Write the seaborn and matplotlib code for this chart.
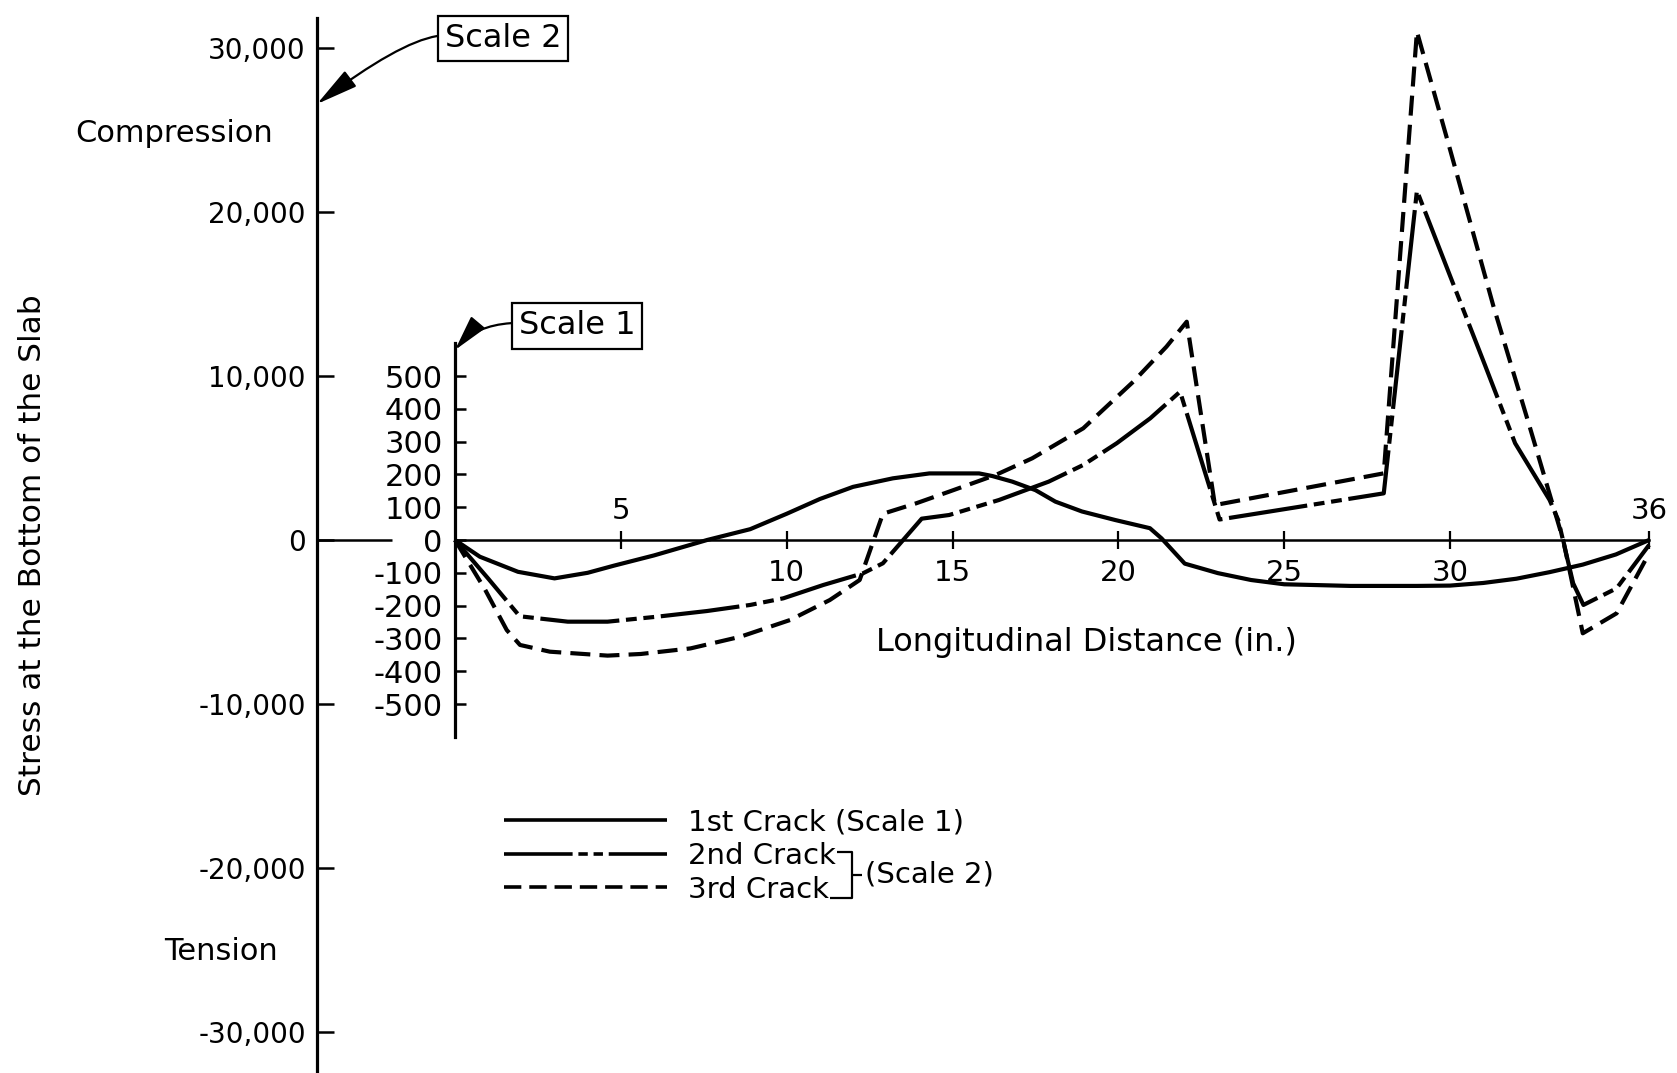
import matplotlib
matplotlib.use("Agg")
import matplotlib.pyplot as plt
import seaborn as sns
from matplotlib.lines import Line2D

# ---------------- data ----------------
# 1st crack, Scale 1 (psi)
dist_1st = [0, 0.75, 1.9, 3.0, 4.0, 4.8, 6.0, 7.6, 8.9, 10.0, 11.0, 12.0, 13.2, 14.3,
            15.8, 16.2, 16.8, 17.5, 18.1, 18.9, 19.9, 20.95, 21.3, 22.0, 23.0, 24.0,
            25.0, 27.0, 29.0, 30.0, 31.0, 32.0, 33.0, 34.0, 35.0, 36.0]
stress_1st = [0, -51, -97, -117, -100, -78, -47, 0, 33, 80, 125, 162, 188, 203,
              203, 195, 178, 152, 117, 87, 61, 36, 5, -72, -101, -122,
              -135, -140, -140, -139, -131, -118, -98, -75, -44, 0]

# 2nd crack, Scale 2 (psi)
dist_2nd = [0, 1.0, 1.95, 3.4, 4.6, 6.1, 7.6, 8.9, 9.9, 11.1, 12.3, 12.9, 14.07, 14.9,
            16.4, 17.9, 18.94, 19.95, 20.96, 21.86, 23.05, 28.0, 29.0, 30.0, 31.05,
            31.96, 33.0, 33.26, 33.71, 34.02, 35.02, 36.0]
stress_2nd = [0, -2350, -4650, -4980, -4980, -4675, -4330, -3960, -3555, -2745, -2030,
              -1420, 1300, 1525, 2440, 3560, 4575, 5900, 7420, 9045, 1250, 2845, 21300,
              16100, 10670, 5900, 2440, 1220, -2640, -3960, -2945, -300]

# 3rd crack, Scale 2 (psi)
dist_3rd = [0, 0.9, 1.56, 1.96, 2.86, 4.6, 5.6, 7.1, 8.6, 10.1, 11.3, 12.2, 12.9, 13.9,
            14.9, 16.3, 17.4, 18.94, 20.45, 21.45, 22.06, 22.91, 28.0, 29.0, 30.0,
            31.3, 32.4, 33.41, 34.0, 35.02, 36.0]
stress_3rd = [0, -3000, -5490, -6400, -6810, -7050, -6950, -6610, -5900, -4880, -3660,
              -2440, 1600, 2235, 2950, 3965, 4980, 6810, 9655, 11790, 13310, 2130, 4065,
              31000, 23800, 14300, 6900, 0, -5690, -4470, -810]

scale2_ticks = [-30000, -20000, -10000, 0, 10000, 20000, 30000]
scale2_labels = ["-30,000", "-20,000", "-10,000", "0", "10,000", "20,000", "30,000"]
scale1_ticks = [-500, -400, -300, -200, -100, 0, 100, 200, 300, 400, 500]
scale1_labels = ["-500", "-400", "-300", "-200", "-100", "0", "100", "200", "300", "400", "500"]
x_ticks_below = [10, 15, 20, 25, 30]
x_ticks_above = [5, 36]
legend_labels = ["1st Crack (Scale 1)", "2nd Crack", "3rd Crack"]
SCALE_RATIO = 20  # Scale 2 units per Scale 1 unit

# ---------------- style ----------------
sns.set_theme(style="white", rc={
    "axes.edgecolor": "black", "text.color": "black", "axes.labelcolor": "black",
    "xtick.color": "black", "ytick.color": "black",
    "lines.solid_capstyle": "butt", "lines.dash_capstyle": "butt",
})
plt.rcParams["font.family"] = ["DejaVu Sans"]

W, H = 1677, 1073
fig = plt.figure(figsize=(W / 100, H / 100), dpi=100)

# layout (pixels in the output image)
AX_LEFT_PX = 317      # Scale 2 axis
X0_PX = 455           # 0 in. / Scale 1 axis
PX_PER_IN = 33.17
Y0_PX = 540           # zero stress line
PX_PER_PSI2 = 164 / 10000
AX_TOP_PX = 18

xmin = (AX_LEFT_PX - X0_PX) / PX_PER_IN
xmax = (W - X0_PX) / PX_PER_IN
ymax = (Y0_PX - AX_TOP_PX) / PX_PER_PSI2
ymin = (Y0_PX - H) / PX_PER_PSI2

ax = fig.add_axes([AX_LEFT_PX / W, 0, (W - AX_LEFT_PX) / W, (H - AX_TOP_PX) / H])
ax2 = ax.twinx()
ax3 = ax.twiny()

# ---------------- curves ----------------
sns.lineplot(x=dist_2nd, y=stress_2nd, ax=ax, color="black", linewidth=3.0)
line2 = ax.lines[-1]
line2.set_linestyle((0, (19, 1.6, 2.6, 1.6, 2.6, 1.6)))
sns.lineplot(x=dist_3rd, y=stress_3rd, ax=ax, color="black", linewidth=3.0)
line3 = ax.lines[-1]
line3.set_linestyle((0, (4.8, 2.2)))
sns.lineplot(x=dist_1st, y=stress_1st, ax=ax2, color="black", linewidth=3.0)
line1 = ax2.lines[-1]

for a in (ax, ax3):
    a.set_xlim(xmin, xmax)
ax.set_ylim(ymin, ymax)
ax2.set_ylim(ymin / SCALE_RATIO, ymax / SCALE_RATIO)

# ---------------- Scale 2 axis (main left spine) ----------------
for s in ("top", "right"):
    ax.spines[s].set_visible(False)
ax.spines["left"].set_linewidth(2.3)
ax.spines["bottom"].set_position(("data", 0))
ax.spines["bottom"].set_bounds(0, 36)
ax.spines["bottom"].set_linewidth(1.8)
ax.set_yticks(scale2_ticks, scale2_labels)
ax.tick_params(axis="y", left=True, right=False, direction="in", length=12, width=1.8,
               pad=8, labelsize=20)
ax.set_xticks(x_ticks_below + x_ticks_above,
              [str(v) for v in x_ticks_below] + [""] * len(x_ticks_above))
ax.tick_params(axis="x", bottom=True, top=False, direction="inout", length=13, width=1.6,
               pad=7, labelsize=21)
# short piece of the zero line next to the Scale 2 axis
ax.hlines(0, xmin, (392 - X0_PX) / PX_PER_IN, color="black", linewidth=1.8)

# ---------------- Scale 1 axis ----------------
for s in ("top", "right", "bottom"):
    ax2.spines[s].set_visible(False)
ax2.spines["left"].set_visible(True)
ax2.spines["left"].set_position(("data", 0))
ax2.spines["left"].set_bounds(-600, 600)
ax2.spines["left"].set_linewidth(2.3)
ax2.yaxis.tick_left()
ax2.set_yticks(scale1_ticks, scale1_labels)
ax2.tick_params(axis="y", left=True, right=False, labelleft=True, labelright=False,
                direction="in", length=8, width=1.8, pad=9, labelsize=22)

# ---------------- labels above the zero line (5 and 36) ----------------
for s in ("left", "right", "bottom"):
    ax3.spines[s].set_visible(False)
ax3.spines["top"].set_position(("data", 0))
ax3.spines["top"].set_visible(False)
ax3.set_xticks(x_ticks_above, [str(v) for v in x_ticks_above])
ax3.tick_params(axis="x", top=True, bottom=False, labeltop=True, labelbottom=False,
                length=0, pad=11, labelsize=21)

# ---------------- texts ----------------
fig.text(33 / W, 1 - 545 / H, "Stress at the Bottom of the Slab", rotation=90,
         ha="center", va="center", fontsize=22.5)
fig.text(174 / W, 1 - 133 / H, "Compression", ha="center", va="center", fontsize=22)
fig.text(221 / W, 1 - 951 / H, "Tension", ha="center", va="center", fontsize=22)
fig.text(1086 / W, 1 - 642 / H, "Longitudinal Distance (in.)", ha="center", va="center",
         fontsize=23)

box = dict(boxstyle="square,pad=0.22", fc="white", ec="black", lw=1.6)
ax.annotate("Scale 2", xy=(xmin, (Y0_PX - 104) / PX_PER_PSI2), xycoords="data",
            xytext=(503, H - 38.5), textcoords="figure pixels",
            ha="center", va="center", fontsize=23, bbox=box, annotation_clip=False,
            arrowprops=dict(arrowstyle="-|>,head_length=1.3,head_width=0.3",
                            color="black", lw=1.6, mutation_scale=20,
                            connectionstyle="angle3,angleA=0,angleB=37",
                            relpos=(0, 0.6), shrinkA=0, shrinkB=0))
ax.annotate("Scale 1", xy=(0, (Y0_PX - 350) / PX_PER_PSI2), xycoords="data",
            xytext=(577, H - 326), textcoords="figure pixels",
            ha="center", va="center", fontsize=23, bbox=box, annotation_clip=False,
            arrowprops=dict(arrowstyle="-|>,head_length=1.1,head_width=0.28",
                            color="black", lw=1.6, mutation_scale=20,
                            connectionstyle="angle3,angleA=0,angleB=50",
                            relpos=(0, 0.6), shrinkA=0, shrinkB=0))

# ---------------- legend ----------------
leg = fig.legend(handles=[line1, line2, line3], labels=legend_labels, loc="upper left",
                 bbox_to_anchor=(504 / W, 1 - 808 / H), frameon=False, fontsize=21,
                 handlelength=5.6, handletextpad=0.7, labelspacing=0.2,
                 borderpad=0, borderaxespad=0)
for h in leg.legend_handles:
    h.set_linewidth(2.6)

fig.canvas.draw()
r = fig.canvas.get_renderer()
b2 = leg.get_texts()[1].get_window_extent(r)
b3 = leg.get_texts()[2].get_window_extent(r)
xv = max(b2.x1, b3.x1) + 16
ytop = (b2.y0 + b2.y1) / 2 + 4
ybot = b3.y0 + 6
ymid = (ytop + ybot) / 2
fw, fh = fig.bbox.width, fig.bbox.height
fig.add_artist(Line2D([(b2.x1 + 1) / fw, xv / fw, xv / fw, (b3.x1 + 1) / fw],
                      [ytop / fh, ytop / fh, ybot / fh, ybot / fh],
                      transform=fig.transFigure, color="black", lw=1.6))
fig.add_artist(Line2D([xv / fw, (xv + 10) / fw], [ymid / fh, ymid / fh],
                      transform=fig.transFigure, color="black", lw=1.6))
fig.text((xv + 13) / fw, ymid / fh, "(Scale 2)", ha="left", va="center", fontsize=21)

fig.savefig("out.png", dpi=100, facecolor="white")
